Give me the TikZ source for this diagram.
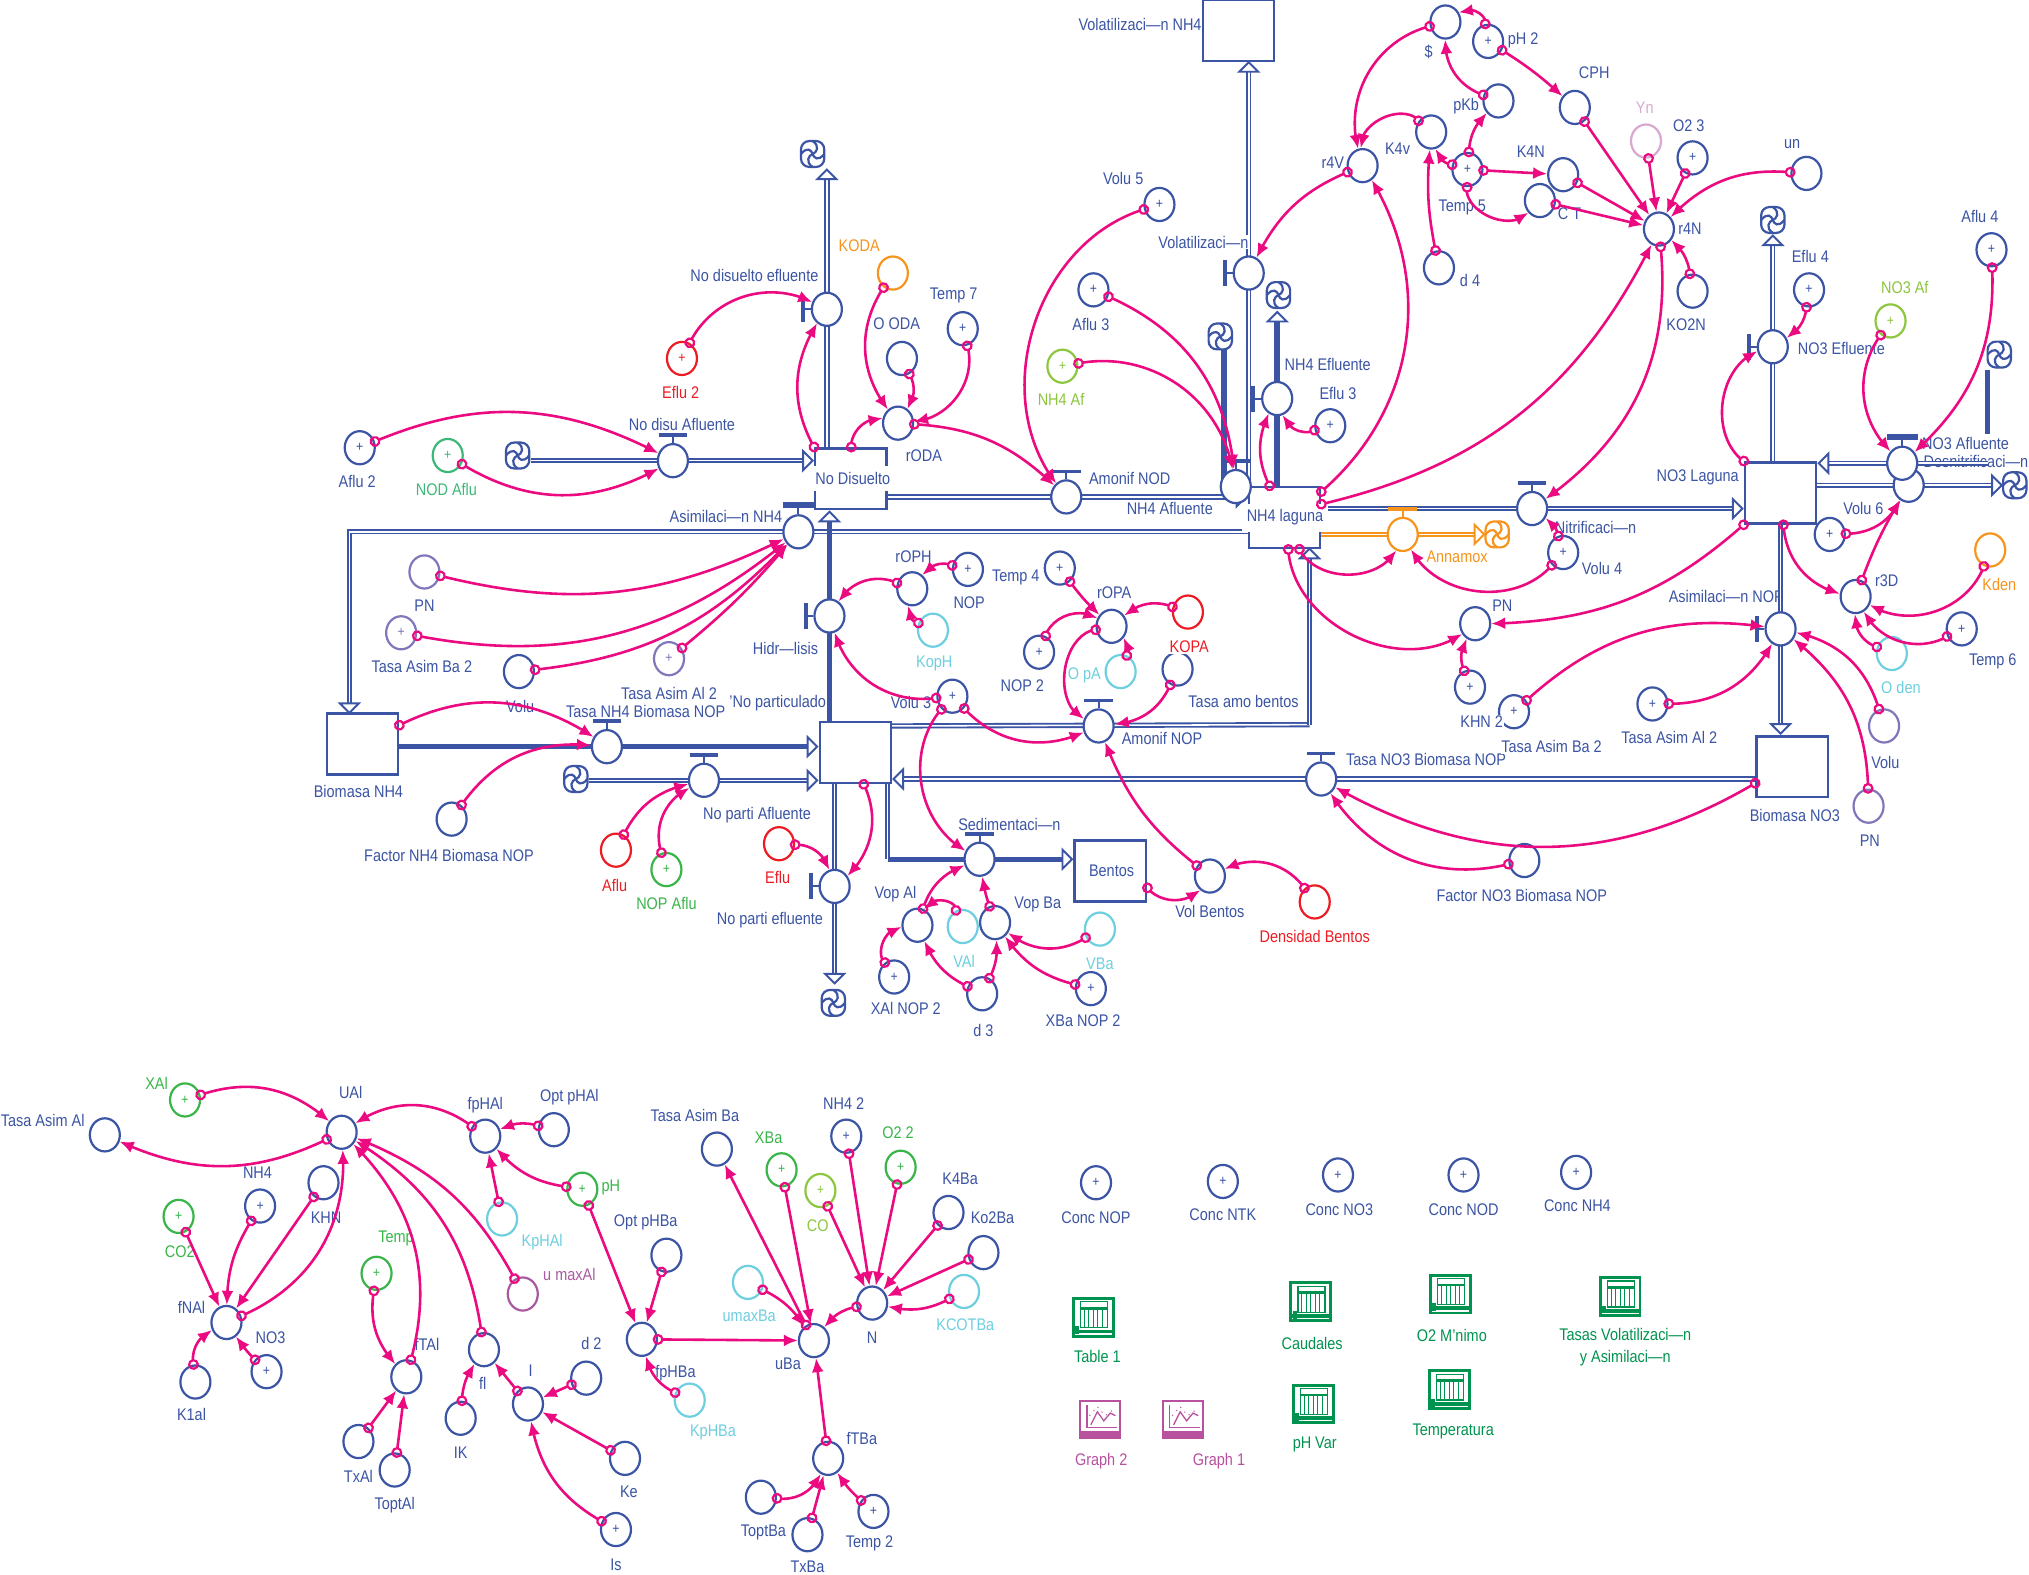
\documentclass[tikz,border=0pt]{standalone}
\usepackage{fontspec}
\setmainfont[FakeStretch=0.86]{Liberation Sans}
\usetikzlibrary{arrows.meta,shapes.geometric,calc,bending}
\definecolor{sb}{RGB}{59,84,164}
\definecolor{pk}{RGB}{236,10,128}
\definecolor{rd}{RGB}{237,28,36}
\definecolor{grn}{RGB}{57,181,74}
\definecolor{lg}{RGB}{141,198,63}
\definecolor{gt}{RGB}{60,184,120}
\definecolor{cy}{RGB}{109,207,223}
\definecolor{pur}{RGB}{128,118,186}
\definecolor{orn}{RGB}{247,148,29}
\definecolor{tg}{RGB}{0,147,79}
\definecolor{gp}{RGB}{184,81,158}
\definecolor{yn}{RGB}{216,168,208}
\definecolor{um}{RGB}{168,90,160}
\pgfdeclarelayer{pre}\pgfdeclarelayer{flows}\pgfdeclarelayer{labs}\pgfdeclarelayer{lks}
\pgfsetlayers{pre,flows,main,labs,lks}
\tikzset{
 cv/.style={ellipse,draw=#1,line width=.85pt,fill=white,minimum width=11.6pt,minimum height=12.8pt,inner sep=0pt,text=#1,font=\fontsize{5.5}{5.5}\selectfont},
 cv/.default=sb,
 stk/.style={rectangle,draw=sb,line width=.95pt,fill=white,minimum width=27.5pt,minimum height=23.5pt,inner sep=0pt},
 lb/.style={fill=white,inner sep=.3pt,text=#1,font=\fontsize{6.5}{8.6}\selectfont,align=center},
 lb/.default=sb,
 hollow/.style={-{Triangle[length=4.6pt,width=9pt,fill=white,line width=.75pt]}},
 fl/.style={draw=#1,line width=.72pt,double=white,double distance=.6pt},
 fl/.default=sb,
 flt/.style={draw=sb,line width=2.1pt},
 lnk/.style={draw=pk,line width=1pt,shorten <=-2pt,{Circle[open,length=4.2pt,width=4.2pt,line width=.85pt]}-{Latex[length=5.4pt,width=4.6pt,flex]}},
 cldn/.style={circle,minimum size=10pt,inner sep=0pt},
 onstock/.style={inner xsep=2pt,inner ysep=2.4pt},
}
\newcommand\lk[3]{\draw[lnk] (#2) to[bend left=#1] (#3);}
\newcommand\valT[2][sb]{\draw[#1,line width=.8pt] (#2.north) -- ++(0,6);\draw[#1,line width=1.4pt] (#2.north) ++(-11,6) -- ++(22,0);}
\newcommand\valTT[1]{\draw[sb,line width=.8pt] (#1.north) -- ++(0,6);\draw[sb,line width=2.3pt] (#1.north) ++(-12,7) -- ++(24,0);}
\newcommand\valL[2][sb]{\draw[#1,line width=.8pt] (#2.west) -- ++(-6,0);\draw[#1,line width=1.6pt] (#2.west) ++(-6,-10) -- ++(0,20);}
\newcommand\cld[4][sb]{\node[cldn] (#2) at (#3,-#4) {};
 \begin{scope}[shift={(#3,-#4)},draw=#1,line width=.85pt,rounded corners=3.2pt]
 \draw (-9,-10) rectangle (9,10);
 \draw[sharp corners] (-9,0) .. controls (-4,6) and (-1,3) .. (0,0) .. controls (1,-3) and (4,-6) .. (9,0);
 \draw[sharp corners] (0,10) .. controls (6,6) and (3,1) .. (0,0) .. controls (-3,-1) and (-6,-6) .. (0,-10);
 \end{scope}}
\newcommand\tabicon[3]{\node[rectangle,draw=tg,line width=1.1pt,fill=white,minimum width=15.4pt,minimum height=14.6pt,inner sep=0pt] (#1) at (#2,-#3) {};
 \begin{scope}[shift={(#2,-#3)},draw=tg]
 \draw[line width=.5pt] (-10,-8) rectangle (11,12);
 \fill[tg] (-10,6) rectangle (11,8);
 \foreach \xx in {-7,-3.5,0,3.5,7} {\draw[line width=.4pt] (\xx,6) -- (\xx,-8);}
 \draw[line width=1.4pt] (-15,-11) -- (15,-11);
 \fill[tg] (-14,-7) rectangle (-11,-13);
 \end{scope}}
\newcommand\graphicon[3]{\node[rectangle,draw=gp,line width=.7pt,fill=white,minimum width=15.4pt,minimum height=14.6pt,inner sep=0pt] (#1) at (#2,-#3) {};
 \begin{scope}[shift={(#2,-#3)},draw=gp]
 \fill[gp] (-15,-14.5) rectangle (15,-9);
 \draw[line width=.5pt] (-10,11) -- (-10,-6) -- (13,-6);
 \draw[line width=.5pt] (-7,-4) -- (-2,6) -- (3,-1) -- (8,5) -- (12,3);
 \draw[line width=.4pt,dotted] (-8,3) -- (-2,10) -- (4,3) -- (12,9);
 \end{scope}}
\begin{document}
\begin{tikzpicture}[x=.5pt,y=.5pt]
\useasboundingbox (0,0) rectangle (1568,-1217);
\begin{pgfonlayer}{pre}
\fill[white] (0,0) rectangle (1568,-1217);
\end{pgfonlayer}
% ---------- stocks
\node[stk] (ND) at (657.5,-370) {};
\node[stk] (LAG) at (992.5,-400) {};
\node[stk] (NO3) at (1376,-381) {};
\node[stk] (VN) at (957,-23.5) {};
\node[stk] (NP) at (661,-581.5) {};
\node[stk] (BN) at (280,-575) {};
\node[stk] (BNO) at (1385,-592.5) {};
\node[stk] (Be) at (858,-673) {};
% ---------- clouds
\cld{cNDA}{400}{352}
\cld{cNDE}{628}{119}
\cld{cNAf}{943}{260}
\cld{cNEf}{988}{228}
\cld{cNOE}{1370}{170}
\cld{cNOA}{1545}{274}
\cld{cDes}{1557}{375}
\cld[orn]{cAnn}{1157}{413}
\cld{cNPA}{445}{602}
\cld{cNPE}{644}{775}
% ---------- valves
\node[cv] (vNDA) at (520,-356) {};\valT{vNDA}
\node[cv] (vNDE) at (639,-239) {};\valL{vNDE}
\node[cv] (vAmNOD) at (824,-384) {};\valT{vAmNOD}
\node[cv] (vNAf) at (955,-376) {};\valT{vNAf}
\node[cv] (vVol) at (965,-211) {};\valL{vVol}
\node[cv] (vNEf) at (987,-308) {};\valL{vNEf}
\node[cv] (vNit) at (1184,-393) {};\valT{vNit}
\node[cv=orn] (vAnn) at (1084,-413) {};\valT[orn]{vAnn}
\node[cv] (vNOE) at (1370,-268) {};\valL{vNOE}
\node[cv] (vDes) at (1475,-375) {};
\node[cv] (vNOA) at (1470,-358) {};\valTT{vNOA}
\node[cv] (vAsN) at (1376,-486) {};\valL{vAsN}
\node[cv] (vTNO) at (1021,-602) {};\valT{vTNO}
\node[cv] (vHid) at (641,-476) {};\valL{vHid}
\node[cv] (vAsH) at (617,-411) {};\valTT{vAsH}
\node[cv] (vTNH) at (469,-577) {};\valT{vTNH}
\node[cv] (vNPA) at (544,-603) {};\valT{vNPA}
\node[cv] (vNPE) at (645,-685) {};\valL{vNPE}
\node[cv] (vSed) at (757,-664) {};\valT{vSed}
\node[cv] (vAN) at (849,-561) {};\valT{vAN}
% ---------- converters, upper model
\node[cv] (Aflu2) at (278,-346) {+};
\node[cv=gt] (NODAflu) at (346,-352) {+};
\node[cv=rd] (Eflu2) at (527,-277) {+};
\node[cv=orn] (KODA) at (690,-211) {};
\node[cv] (OODA) at (697,-277) {};
\node[cv] (Temp7) at (744,-254) {+};
\node[cv] (rODA) at (694,-327) {};
\node[cv] (Eflu3) at (1028,-329) {+};
\node[cv] (Volu5) at (896,-158) {+};
\node[cv] (Aflu3) at (845,-224) {+};
\node[cv=lg] (NH4Af) at (821,-283) {+};
\node[cv] (dollar) at (1117,-17) {};
\node[cv] (pH2) at (1150,-32) {+};
\node[cv] (pKb) at (1158,-78) {};
\node[cv] (K4v) at (1106,-102) {};
\node[cv] (r4V) at (1053,-128) {};
\node[cv] (Temp5) at (1134,-131) {+};
\node[cv] (K4N) at (1208,-135) {};
\node[cv] (CT) at (1190,-155) {};
\node[cv] (CPH) at (1217,-83) {};
\node[cv=yn] (Yn) at (1272,-109) {};
\node[cv] (O23) at (1308,-122) {+};
\node[cv] (un) at (1396,-134) {};
\node[cv] (r4N) at (1282,-177) {};
\node[cv] (KO2N) at (1308,-225) {};
\node[cv] (d4) at (1112,-207) {};
\node[cv] (Eflu4) at (1398,-224) {+};
\node[cv] (Aflu4) at (1539,-193) {+};
\node[cv=lg] (NO3Af) at (1461,-248) {+};
\node[cv] (Volu6) at (1414,-413) {+};
\node[cv] (r3D) at (1434,-461) {};
\node[cv=orn] (Kden) at (1538,-425) {};
\node[cv] (Temp6) at (1516,-486) {+};
\node[cv=cy] (Oden) at (1462,-505) {};
\node[cv] (Volu4) at (1208,-427) {+};
\node[cv] (PNa) at (1140,-482) {};
\node[cv] (KHN2) at (1136,-531) {+};
\node[cv] (TAB2a) at (1170,-550) {+};
\node[cv] (TAA2a) at (1277,-544) {+};
\node[cv=pur] (VoluA) at (1456,-561) {};
\node[cv=pur] (PNb) at (1444,-623) {};
\node[cv] (FNO) at (1178,-665) {};
\node[cv=pur] (PNc) at (328,-442) {};
\node[cv=pur] (TAB2b) at (310,-489) {+};
\node[cv] (VoluB) at (401,-519) {};
\node[cv=pur] (TAA2b) at (517,-509) {+};
\node[cv] (FNH) at (349,-633) {};
\node[cv=rd] (AfluR) at (476,-657) {};
\node[cv=grn] (NOPAflu) at (515,-672) {+};
\node[cv=rd] (EfluR) at (602,-652) {};
\node[cv] (VopAl) at (709,-715) {};
\node[cv=cy] (VAl) at (744,-716) {};
\node[cv] (VopBa) at (769,-713) {};
\node[cv=cy] (VBa) at (850,-718) {};
\node[cv] (d3) at (759,-768) {};
\node[cv] (XAl2) at (691,-755) {+};
\node[cv] (XBa2) at (843,-764) {+};
\node[cv] (rOPH) at (705,-455) {};
\node[cv] (NOPv) at (748,-440) {+};
\node[cv] (Temp4) at (819,-439) {+};
\node[cv=cy] (KopH) at (721,-487) {};
\node[cv] (Volu3) at (736,-538) {+};
\node[cv] (NOP2) at (803,-504) {+};
\node[cv] (rOPA) at (859,-484) {};
\node[cv=rd] (KOPA) at (918,-473) {};
\node[cv=cy] (OpA) at (866,-519) {};
\node[cv] (TAmo) at (910,-517) {};
\node[cv] (VolB) at (935,-677) {};
\node[cv=rd] (DensB) at (1016,-697) {};
% ---------- converters, lower model
\node[cv=grn] (XAl) at (143,-850) {+};
\node[cv] (UAl) at (264,-875) {};
\node[cv] (TAAl) at (81,-877) {};
\node[cv] (NH4v) at (201,-932) {+};
\node[cv] (KHN) at (250,-914) {};
\node[cv=grn] (CO2) at (138,-940) {+};
\node[cv] (fNAl) at (175,-1022) {};
\node[cv] (NO3v) at (206,-1060) {+};
\node[cv] (K1al) at (151,-1068) {};
\node[cv=grn] (Tempv) at (291,-984) {+};
\node[cv] (fTAl) at (314,-1064) {};
\node[cv] (TxAl) at (277,-1114) {};
\node[cv] (ToptAl) at (305,-1136) {};
\node[cv] (flv) at (374,-1043) {};
\node[cv] (IK) at (356,-1096) {};
\node[cv] (Iv) at (408,-1085) {};
\node[cv] (d2) at (453,-1065) {};
\node[cv] (Ke) at (483,-1127) {};
\node[cv] (Isv) at (476,-1182) {+};
\node[cv] (fpHAl) at (375,-878) {};
\node[cv] (OptAl) at (428,-873) {};
\node[cv=cy] (KpHAl) at (388,-942) {};
\node[cv=um] (umaxAl) at (404,-1000) {};
\node[cv=grn] (pHv) at (450,-919) {+};
\node[cv] (OptBa) at (515,-970) {};
\node[cv] (fpHBa) at (496,-1035) {};
\node[cv=cy] (KpHBa) at (533,-1082) {};
\node[cv] (uBa) at (629,-1036) {};
\node[cv=cy] (umaxBa) at (578,-991) {};
\node[cv] (TABa) at (554,-888) {};
\node[cv=grn] (XBa) at (604,-904) {+};
\node[cv=lg] (COv) at (634,-920) {+};
\node[cv] (NH42) at (654,-878) {+};
\node[cv=grn] (O22) at (696,-902) {+};
\node[cv] (K4Ba) at (733,-937) {};
\node[cv] (Ko2Ba) at (760,-968) {};
\node[cv=cy] (KCOT) at (745,-998) {};
\node[cv] (Nv) at (674,-1007) {};
\node[cv] (fTBa) at (640,-1127) {};
\node[cv] (ToptBa) at (588,-1157) {};
\node[cv] (TxBa) at (624,-1186) {};
\node[cv] (Temp2) at (675,-1168) {+};
\node[cv] (ConcNOP) at (847,-914) {+};
\node[cv] (ConcNTK) at (945,-913) {+};
\node[cv] (ConcNO3) at (1034,-908) {+};
\node[cv] (ConcNOD) at (1131,-908) {+};
\node[cv] (ConcNH4) at (1218,-906) {+};
\tabicon{Tab1}{845}{1018}
\tabicon{Caud}{1013}{1006}
\tabicon{O2M}{1121}{1000}
\tabicon{Tasas}{1252}{1002}
\tabicon{pHVar}{1015}{1085}
\tabicon{Tempr}{1120}{1074}
\graphicon{Gr2}{850}{1097}
\graphicon{Gr1}{914}{1097}
% ---------- free ends of flows
\coordinate (eNDE) at (639,-130);
\coordinate (eVol) at (965,-47);
\coordinate (eNEf) at (987,-240);
\coordinate (eNOE) at (1370,-181);
\coordinate (eDes) at (1548,-375);
\coordinate (eAnn) at (1148,-413);
\coordinate (eNPE) at (645,-761);
\coordinate (kBN) at (270,-552);
\coordinate (kAN) at (1012,-560);
\coordinate (kAN2) at (1012,-423);
\coordinate (kS1) at (686,-605);
\coordinate (kS2) at (686,-664);
\coordinate (kD1) at (1536,-286);
\coordinate (kD2) at (1536,-335);
\coordinate (kD3) at (1536,-358);
\coordinate (kNA) at (946,-270);
% ---------- labels under the flows
\begin{pgfonlayer}{pre}
\node[lb] (lDes) at (1527,-357) {Desnitrificaci—n};
\node[lb] (lAsN) at (1334,-461) {Asimilaci—n NOP};
\node[lb] (lHid) at (607,-501) {Hidr—lisis};
\end{pgfonlayer}
% ---------- flows
\begin{pgfonlayer}{flows}
\draw[fl,hollow] (vNDA -| cNDA.east) -- (vNDA -| ND.west);
\draw[fl,hollow] (vNDE |- ND.north) -- (eNDE);
\draw[fl,hollow] (vAmNOD -| ND.east) -- (vAmNOD -| LAG.west);
\draw[fl] (kNA) -- (kNA |- LAG.north);
\draw[flt] (kNA) -- (kNA |- vNAf);
\draw[fl,hollow] (vVol |- LAG.north) -- (eVol);
\draw[flt,hollow] (vNEf |- LAG.north) -- (eNEf);
\draw[fl,hollow] (vNit -| LAG.east) -- (vNit -| NO3.west);
\draw[fl=orn,hollow] (vAnn -| LAG.east) -- (eAnn);
\draw[fl] (vAsH -| LAG.west) -| (kBN);
\draw[fl,hollow] (kBN) ++(0,2) -- (kBN);
\draw[flt,hollow] (vHid |- NP.north) -- (vHid |- ND.south);
\draw[flt,hollow] (vTNH -| BN.east) -- (vTNH -| NP.west);
\draw[fl,hollow] (vNPA -| cNPA.east) -- (vNPA -| NP.west);
\draw[fl,hollow] (vNPE |- NP.south) -- (eNPE);
\draw[fl,hollow] (vTNO -| BNO.west) -- (vTNO -| NP.east);
\draw[fl] (vAN -| NP.east) -- (kAN);
\draw[fl,hollow] (kAN) -- (kAN2);
\draw[fl] (kS1) -- (kS2);
\draw[flt,hollow] (kS2) -- (vSed -| Be.west);
\draw[flt] (kD1) -- (kD2);
\draw[fl,hollow] (kD3) -- (kD3 -| NO3.east);
\draw[fl,hollow] (vDes -| NO3.east) -- (eDes);
\draw[fl,hollow] (vNOE |- NO3.north) -- (eNOE);
\draw[fl,hollow] (vAsN |- NO3.south) -- (vAsN |- BNO.north);
\end{pgfonlayer}
% ---------- labels
\begin{pgfonlayer}{labs}
\node[lb] (l1) at (276,-372) {Aflu 2};
\node[lb=gt] (l2) at (345,-378) {NOD Aflu};
\node[lb=rd] (l3) at (526,-303) {Eflu 2};
\node[lb] (l4) at (583,-213) {No disuelto efluente};
\node[lb=orn] (l5) at (664,-190) {KODA};
\node[lb] (l6) at (693,-250) {O ODA};
\node[lb] (l7) at (737,-228) {Temp 7};
\node[lb] (l8) at (714,-352) {rODA};
\node[lb] (l9) at (527,-328) {No disu Afluente};
\node[lb,onstock] (l10) at (659,-370) {No Disuelto};
\node[lb] (l11) at (873,-370) {Amonif NOD};
\node[lb] (l12) at (904,-393) {NH4 Afluente};
\node[lb,onstock] (l13) at (993,-400) {NH4 laguna};
\node[lb] (l14) at (881,-19) {Volatilizaci—n NH4};
\node[lb] (l15) at (930,-187) {Volatilizaci—n};
\node[lb] (l16) at (1026,-282) {NH4 Efluente};
\node[lb] (l17) at (1034,-304) {Eflu 3};
\node[lb] (l18) at (868,-138) {Volu 5};
\node[lb] (l19) at (843,-251) {Aflu 3};
\node[lb=lg] (l20) at (820,-309) {NH4 Af};
\node[lb] (l21) at (1104,-40) {\$};
\node[lb] (l22) at (1177,-31) {pH 2};
\node[lb] (l23) at (1133,-82) {pKb};
\node[lb] (l24) at (1080,-115) {K4v};
\node[lb] (l25) at (1030,-126) {r4V};
\node[lb] (l26) at (1130,-160) {Temp 5};
\node[lb] (l27) at (1183,-117) {K4N};
\node[lb] (l28) at (1213,-165) {C T};
\node[lb] (l29) at (1232,-56) {CPH};
\node[lb=yn] (l30) at (1271,-83) {Yn};
\node[lb] (l31) at (1305,-97) {O2 3};
\node[lb] (l32) at (1385,-111) {un};
\node[lb] (l33) at (1306,-177) {r4N};
\node[lb] (l34) at (1303,-251) {KO2N};
\node[lb] (l35) at (1136,-217) {d 4};
\node[lb] (l36) at (1399,-198) {Eflu 4};
\node[lb] (l37) at (1530,-167) {Aflu 4};
\node[lb=lg] (l38) at (1472,-222) {NO3 Af};
\node[lb] (l39) at (1423,-269) {NO3 Efluente};
\node[lb] (l40) at (1312,-369) {NO3 Laguna};
\node[lb] (l41) at (1519,-343) {NO3 Afluente};
\node[lb] (l42) at (1440,-393) {Volu 6};
\node[lb] (l43) at (1458,-449) {r3D};
\node[lb=orn] (l44) at (1545,-452) {Kden};
\node[lb] (l45) at (1540,-511) {Temp 6};
\node[lb=cy] (l46) at (1469,-531) {O den};
\node[lb] (l47) at (1233,-408) {Nitrificaci—n};
\node[lb] (l48) at (1238,-439) {Volu 4};
\node[lb=orn] (l49) at (1126,-430) {Annamox};
\node[lb] (l50) at (1161,-468) {PN};
\node[lb] (l51) at (1145,-558) {KHN 2};
\node[lb] (l52) at (1102,-587) {Tasa NO3 Biomasa NOP};
\node[lb] (l53) at (1199,-577) {Tasa Asim Ba 2};
\node[lb] (l54) at (1290,-570) {Tasa Asim Al 2};
\node[lb] (l55) at (1387,-630) {Biomasa NO3};
\node[lb] (l56) at (1457,-589) {Volu};
\node[lb] (l57) at (1445,-650) {PN};
\node[lb] (l58) at (1176,-692) {Factor NO3 Biomasa NOP};
\node[lb] (l59) at (561,-399) {Asimilaci—n NH4};
\node[lb] (l60) at (277,-612) {Biomasa NH4};
\node[lb] (l61) at (328,-468) {PN};
\node[lb] (l62) at (326,-515) {Tasa Asim Ba 2};
\node[lb] (l63) at (402,-546) {Volu};
\node[lb] (l64) at (601,-543) {'No particulado};
\node[lb] (l65) at (517,-536) {Tasa Asim Al 2};
\node[lb] (l66) at (499,-550) {Tasa NH4 Biomasa NOP};
\node[lb] (l67) at (347,-661) {Factor NH4 Biomasa NOP};
\node[lb] (l68) at (585,-630) {No parti Afluente};
\node[lb=rd] (l69) at (475,-684) {Aflu};
\node[lb=grn] (l70) at (515,-698) {NOP Aflu};
\node[lb] (l71) at (595,-711) {No parti efluente};
\node[lb=rd] (l72) at (601,-678) {Eflu};
\node[lb] (l73) at (780,-637) {Sedimentaci—n};
\node[lb] (l74) at (859,-673) {Bentos};
\node[lb] (l75) at (692,-691) {Vop Al};
\node[lb=cy] (l76) at (745,-743) {VAl};
\node[lb] (l77) at (802,-699) {Vop Ba};
\node[lb=cy] (l78) at (850,-745) {VBa};
\node[lb] (l79) at (760,-796) {d 3};
\node[lb] (l80) at (700,-779) {XAl NOP 2};
\node[lb] (l81) at (837,-789) {XBa NOP 2};
\node[lb] (l82) at (706,-430) {rOPH};
\node[lb] (l83) at (749,-466) {NOP};
\node[lb] (l84) at (785,-446) {Temp 4};
\node[lb=cy] (l85) at (722,-513) {KopH};
\node[lb] (l86) at (704,-543) {Volu 3};
\node[lb] (l87) at (790,-530) {NOP 2};
\node[lb] (l88) at (861,-458) {rOPA};
\node[lb=rd] (l89) at (919,-500) {KOPA};
\node[lb=cy] (l90) at (838,-522) {O pA};
\node[lb] (l91) at (961,-542) {Tasa amo bentos};
\node[lb] (l92) at (898,-571) {Amonif NOP};
\node[lb] (l93) at (935,-704) {Vol Bentos};
\node[lb=rd] (l94) at (1016,-724) {Densidad Bentos};
\node[lb=grn] (m1) at (121,-837) {XAl};
\node[lb] (m2) at (271,-844) {UAl};
\node[lb] (m3) at (33,-866) {Tasa Asim Al};
\node[lb] (m4) at (199,-906) {NH4};
\node[lb] (m5) at (252,-941) {KHN};
\node[lb=grn] (m6) at (139,-967) {CO2};
\node[lb] (m7) at (148,-1010) {fNAl};
\node[lb] (m8) at (209,-1034) {NO3};
\node[lb] (m9) at (148,-1093) {K1al};
\node[lb=grn] (m10) at (306,-957) {Temp};
\node[lb] (m11) at (330,-1039) {fTAl};
\node[lb] (m12) at (277,-1141) {TxAl};
\node[lb] (m13) at (305,-1163) {ToptAl};
\node[lb] (m14) at (373,-1069) {fl};
\node[lb] (m15) at (356,-1123) {IK};
\node[lb] (m16) at (410,-1059) {I};
\node[lb] (m17) at (457,-1038) {d 2};
\node[lb] (m18) at (486,-1153) {Ke};
\node[lb] (m19) at (476,-1209) {Is};
\node[lb] (m20) at (375,-854) {fpHAl};
\node[lb] (m21) at (440,-848) {Opt pHAl};
\node[lb=cy] (m22) at (419,-960) {KpHAl};
\node[lb=um] (m23) at (440,-985) {u maxAl};
\node[lb=grn] (m24) at (472,-918) {pH};
\node[lb] (m25) at (499,-945) {Opt pHBa};
\node[lb] (m26) at (522,-1061) {fpHBa};
\node[lb=cy] (m27) at (551,-1107) {KpHBa};
\node[lb] (m28) at (609,-1054) {uBa};
\node[lb=cy] (m29) at (579,-1017) {umaxBa};
\node[lb] (m30) at (537,-862) {Tasa Asim Ba};
\node[lb=grn] (m31) at (594,-879) {XBa};
\node[lb=lg] (m32) at (632,-947) {CO};
\node[lb] (m33) at (652,-853) {NH4 2};
\node[lb=grn] (m34) at (694,-875) {O2 2};
\node[lb] (m35) at (742,-911) {K4Ba};
\node[lb] (m36) at (767,-941) {Ko2Ba};
\node[lb=cy] (m37) at (746,-1024) {KCOTBa};
\node[lb] (m38) at (674,-1034) {N};
\node[lb] (m39) at (666,-1112) {fTBa};
\node[lb] (m40) at (590,-1184) {ToptBa};
\node[lb] (m41) at (624,-1211) {TxBa};
\node[lb] (m42) at (672,-1193) {Temp 2};
\node[lb] (m43) at (847,-941) {Conc NOP};
\node[lb] (m44) at (945,-939) {Conc NTK};
\node[lb] (m45) at (1035,-935) {Conc NO3};
\node[lb] (m46) at (1131,-935) {Conc NOD};
\node[lb] (m47) at (1219,-932) {Conc NH4};
\node[lb=tg] (m48) at (848,-1048) {Table 1};
\node[lb=tg] (m49) at (1014,-1038) {Caudales};
\node[lb=tg] (m50) at (1122,-1032) {O2 M'nimo};
\node[lb=tg] (m51) at (1256,-1041) {Tasas Volatilizaci—n\\y Asimilaci—n};
\node[lb=tg] (m52) at (1016,-1116) {pH Var};
\node[lb=tg] (m53) at (1123,-1106) {Temperatura};
\node[lb=gp] (m54) at (851,-1129) {Graph 2};
\node[lb=gp] (m55) at (942,-1129) {Graph 1};
\end{pgfonlayer}
% ---------- information links
\begin{pgfonlayer}{lks}
\lk{25}{Aflu2}{vNDA}
\lk{-30}{NODAflu}{vNDA}
\lk{45}{Eflu2}{vNDE}
\lk{30}{ND.north west}{vNDE}
\lk{45}{ND.north}{rODA}
\lk{-35}{KODA}{rODA}
\lk{30}{OODA}{rODA}
\lk{50}{Temp7}{rODA}
\lk{20}{rODA}{vAmNOD}
\lk{-55}{Volu5}{vAmNOD}
\lk{30}{Aflu3}{vNAf}
\lk{45}{NH4Af}{vNAf}
\lk{45}{Eflu3}{vNEf}
\lk{25}{LAG.115}{vNEf}
\lk{-40}{LAG.35}{r4V}
\lk{-25}{LAG.20}{r4N}
\lk{30}{r4N}{vNit}
\lk{-20}{r4V}{vVol}
\lk{-45}{dollar}{r4V}
\lk{-70}{K4v}{r4V}
\lk{-60}{pH2}{dollar}
\lk{35}{pKb}{dollar}
\lk{5}{pH2}{CPH}
\lk{30}{Temp5}{K4v}
\lk{20}{Temp5}{pKb}
\lk{0}{Temp5}{K4N}
\lk{-70}{Temp5}{CT}
\lk{8}{d4}{K4v}
\lk{0}{CPH}{r4N}
\lk{0}{Yn}{r4N}
\lk{0}{O23}{r4N}
\lk{0}{K4N}{r4N}
\lk{0}{CT}{r4N}
\lk{-25}{un}{r4N}
\lk{-20}{KO2N}{r4N}
\lk{25}{Eflu4}{vNOE}
\lk{60}{NO3.north west}{vNOE}
\lk{-40}{NO3Af}{vNOA}
\lk{25}{Aflu4}{vNOA}
\lk{-35}{NO3.-85}{r3D}
\lk{-30}{Volu6}{vDes}
\lk{5}{r3D}{vDes}
\lk{50}{Kden}{r3D}
\lk{45}{Temp6}{r3D}
\lk{35}{Oden}{r3D}
\lk{-60}{LAG.-65}{vAnn}
\lk{55}{Volu4}{vAnn}
\lk{-20}{Volu4}{vNit}
\lk{-60}{LAG.-83}{PNa}
\lk{25}{KHN2}{PNa}
\lk{20}{NO3.south west}{PNa}
\lk{25}{TAB2a}{vAsN}
\lk{-30}{TAA2a}{vAsN}
\lk{-30}{VoluA}{vAsN}
\lk{-25}{PNb}{vAsN}
\lk{30}{BNO.204}{vTNO}
\lk{35}{FNO}{vTNO}
\lk{-30}{KOPA}{rOPA}
\lk{-35}{OpA}{rOPA}
\lk{30}{TAmo}{vAN}
\lk{15}{VolB}{vAN}
\lk{-40}{DensB}{VolB}
\lk{-45}{Be.-25}{VolB}
\lk{40}{Volu3}{vHid}
\lk{-35}{Volu3}{vAN}
\lk{-50}{Volu3}{vSed}
\lk{-40}{rOPH}{vHid}
\lk{-35}{NOPv}{rOPH}
\lk{40}{KopH}{rOPH}
\lk{-5}{Temp4}{rOPA}
\lk{50}{NOP2}{rOPA}
\lk{-72}{rOPA}{vAN}
\lk{-20}{PNc}{vAsH}
\lk{-25}{TAB2b}{vAsH}
\lk{-20}{VoluB}{vAsH}
\lk{-5}{TAA2b}{vAsH}
\lk{30}{BN.27}{vTNH}
\lk{30}{FNH}{vTNH}
\lk{25}{AfluR}{vNPA}
\lk{40}{NOPAflu}{vNPA}
\lk{35}{EfluR}{vNPE}
\lk{35}{NP.-75}{vNPE}
\lk{25}{VopAl}{vSed}
\lk{5}{VopBa}{vSed}
\lk{-70}{VAl}{VopAl}
\lk{35}{VBa}{VopBa}
\lk{20}{XBa2}{VopBa}
\lk{-15}{d3}{VopBa}
\lk{20}{d3}{VopAl}
\lk{60}{XAl2}{VopAl}
% lower model
\lk{30}{XAl}{UAl}
\lk{25}{UAl}{TAAl}
\lk{-35}{fpHAl}{UAl}
\lk{-20}{OptAl}{fpHAl}
\lk{0}{KpHAl}{fpHAl}
\lk{20}{pHv}{fpHAl}
\lk{0}{pHv}{fpHBa}
\lk{-15}{NH4v}{fNAl}
\lk{0}{KHN}{fNAl}
\lk{0}{CO2}{fNAl}
\lk{-35}{fNAl}{UAl}
\lk{35}{K1al}{fNAl}
\lk{5}{NO3v}{fNAl}
\lk{-25}{Tempv}{fTAl}
\lk{-30}{fTAl}{UAl}
\lk{0}{TxAl}{fTAl}
\lk{0}{ToptAl}{fTAl}
\lk{-25}{flv}{UAl}
\lk{-20}{umaxAl}{UAl}
\lk{15}{IK}{flv}
\lk{0}{Iv}{flv}
\lk{0}{d2}{Iv}
\lk{0}{Ke}{Iv}
\lk{25}{Isv}{Iv}
\lk{0}{OptBa}{fpHBa}
\lk{0}{fpHBa}{uBa}
\lk{25}{KpHBa}{fpHBa}
\lk{15}{umaxBa}{uBa}
\lk{0}{uBa}{TABa}
\lk{0}{XBa}{uBa}
\lk{0}{COv}{Nv}
\lk{0}{NH42}{Nv}
\lk{0}{O22}{Nv}
\lk{0}{K4Ba}{Nv}
\lk{0}{Ko2Ba}{Nv}
\lk{20}{KCOT}{Nv}
\lk{-20}{Nv}{uBa}
\lk{0}{fTBa}{uBa}
\lk{-35}{ToptBa}{fTBa}
\lk{0}{TxBa}{fTBa}
\lk{8}{Temp2}{fTBa}
\end{pgfonlayer}
\end{tikzpicture}
\end{document}
